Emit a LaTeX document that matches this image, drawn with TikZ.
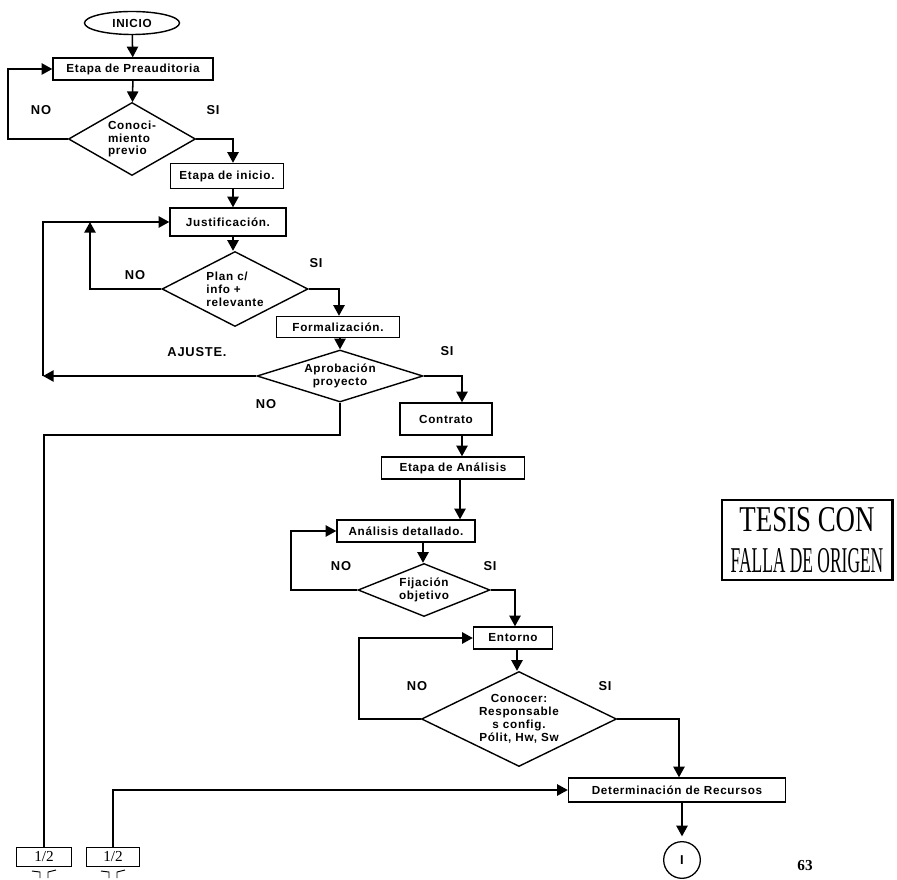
\documentclass[tikz,border=0pt]{standalone}
\usepackage{fontspec}
\setmainfont{Liberation Sans}
\newfontfamily\flowfont[LetterSpace=6]{Liberation Sans}
\newfontfamily\sellofont{Liberation Serif}
\usetikzlibrary{arrows.meta,shapes.geometric}

\begin{document}
\begin{tikzpicture}[x=0.03cm, y=-0.03cm,
  proc/.style={draw, line width=1.2pt, inner sep=1pt, font=\flowfont\bfseries\fontsize{10}{11}\selectfont},
  dec/.style={draw, diamond, line width=1.2pt, inner sep=0pt, aspect=2, font=\flowfont\bfseries\fontsize{10}{11}\selectfont},
  lbl/.style={font=\flowfont\bfseries\fontsize{11}{13}\selectfont},
  conn/.style={draw, line width=0.9pt, inner sep=0pt, minimum height=0.57cm, font=\sellofont\fontsize{13}{15}\selectfont},
  arr/.style={-{Triangle[length=0.32cm,width=0.34cm]}, line width=1.3pt},
  line/.style={line width=1.3pt}
]
\useasboundingbox (0,0) rectangle (897,880);
% nodos del diagrama
\node[draw, ellipse, line width=1.2pt, minimum width=2.85cm, minimum height=0.69cm, inner sep=0pt, font=\flowfont\bfseries\fontsize{10}{11}\selectfont] (inicio) at (132,23) {INICIO};
\node[proc, minimum width=4.8cm, minimum height=0.66cm] (preaud) at (133,69) {Etapa de Preauditoria};
\node[dec, align=left, minimum width=3.81cm, minimum height=2.19cm] (conoc) at (132,139) {Conoci-\\miento\\previo};
\node[proc, minimum width=3.39cm, minimum height=0.75cm] (etinicio) at (227,176) {Etapa de inicio.};
\node[proc, minimum width=3.48cm, minimum height=0.84cm] (justif) at (228,222) {Justificación.};
\node[dec, align=left, minimum width=4.38cm, minimum height=2.25cm] (plan) at (235,289) {Plan c/\\info +\\relevante};
\node[proc, minimum width=3.69cm, minimum height=0.63cm] (formal) at (338,327) {Formalización.};
\node[dec, aspect=3, align=center, minimum width=4.98cm, minimum height=1.56cm] (aprob) at (340,376) {Aprobación\\proyecto};
\node[proc, minimum width=2.76cm, minimum height=0.96cm] (contrato) at (446,419) {Contrato};
\node[proc, minimum width=4.29cm, minimum height=0.66cm] (analisis) at (453,468) {Etapa de Análisis};
\node[proc, minimum width=4.14cm, minimum height=0.66cm] (detalle) at (406,531) {Análisis detallado.};
\node[dec, aspect=2.5, align=center, minimum width=3.96cm, minimum height=1.59cm] (fijacion) at (424,590) {Fijación\\objetivo};
\node[proc, minimum width=2.37cm, minimum height=0.66cm] (entorno) at (513,638) {Entorno};
\node[dec, align=center, minimum width=5.85cm, minimum height=2.85cm] (conocer) at (519,719) {Conocer:\\Responsable\\s config.\\Pólit, Hw, Sw};
\node[proc, minimum width=6.51cm, minimum height=0.72cm] (recursos) at (677,790) {Determinación de Recursos};
\node[draw, circle, line width=1.1pt, minimum size=1.1cm, inner sep=0pt, font=\flowfont\bfseries\fontsize{11}{12}\selectfont] (fin) at (682,860) {I};
\node[conn, minimum width=1.65cm] (conA) at (44,857) {1/2};
\node[conn, minimum width=1.59cm] (conB) at (113,857) {1/2};
\node[draw, line width=1pt, minimum width=5.1cm, minimum height=2.4cm, inner sep=0pt, align=center, font=\sellofont\fontsize{31}{35}\selectfont] (sello) at (807,540) {\scalebox{0.74}[1]{TESIS CON}\\\scalebox{0.48}[1]{FALLA DE ORIGEN}};
\node[font=\sellofont\bfseries\fontsize{13}{15}\selectfont] (pagina) at (805,866) {63};
% etiquetas
\node[lbl] (no1) at (41,110) {NO};
\node[lbl] (si1) at (213,110) {SI};
\node[lbl] (no2) at (135,275) {NO};
\node[lbl] (si2) at (316,263) {SI};
\node[lbl] (ajuste) at (197,352) {AJUSTE.};
\node[lbl] (no3) at (266,404) {NO};
\node[lbl] (si3) at (447,351) {SI};
\node[lbl] (no4) at (341,566) {NO};
\node[lbl] (si4) at (490,566) {SI};
\node[lbl] (no5) at (417,686) {NO};
\node[lbl] (si5) at (605,686) {SI};
\coordinate (ret) at (43,376);
% conectores
\draw[arr] (inicio) -- (preaud);
\draw[arr] (preaud) -- (conoc);
\draw[arr] (conoc.west) -- (conoc.west -| 8,0) |- (preaud.west);
\draw[arr] (conoc.east) -| (etinicio.north -| 233,0);
\draw[arr] (etinicio.south -| 233,0) -- (justif.north -| 233,0);
\draw[arr] (justif.south -| 233,0) -- (plan.north -| 233,0);
\draw[arr] (plan.west) -- (plan.west -| 90,0) -- (justif.west -| 90,0);
\draw[arr] (plan.east) -| (formal.north -| 339,0);
\draw[arr] (formal.south -| 340,0) -- (aprob.north);
\draw[arr] (aprob.west) -- (ret);
\draw[arr] (ret) |- (justif.west);
\draw[line] (aprob.south) |- (conA.north |- 0,435) -- (conA.north);
\draw[arr] (aprob.east) -| (contrato.north -| 462,0);
\draw[arr] (contrato.south -| 462,0) -- (analisis.north -| 462,0);
\draw[arr] (analisis.south -| 460,0) -- (detalle.north -| 460,0);
\draw[arr] (detalle.south -| 423,0) -- (fijacion.north -| 423,0);
\draw[arr] (fijacion.west) -- (fijacion.west -| 291,0) |- (detalle.west);
\draw[arr] (fijacion.east) -| (entorno.north -| 515,0);
\draw[arr] (entorno.south -| 517,0) -- (conocer.north -| 517,0);
\draw[arr] (conocer.west) -- (conocer.west -| 359,0) |- (entorno.west);
\draw[arr] (conocer.east) -| (recursos.north -| 679,0);
\draw[arr] (conB.north) |- (recursos.west);
\draw[arr, shorten >=4pt] (recursos.south -| fin) -- (fin);
% marcas de salida de pagina
\foreach \c in {conA,conB} {
  \draw[line width=0.8pt] (\c.south) ++(-12,4) -- ++(8,1) -- ++(0,6);
  \draw[line width=0.8pt] (\c.south) ++(12,3) -- ++(-8,2) -- ++(0,6);
}
\draw[line width=2pt] (sello.north east) -- (sello.south east);
\end{tikzpicture}
\end{document}
